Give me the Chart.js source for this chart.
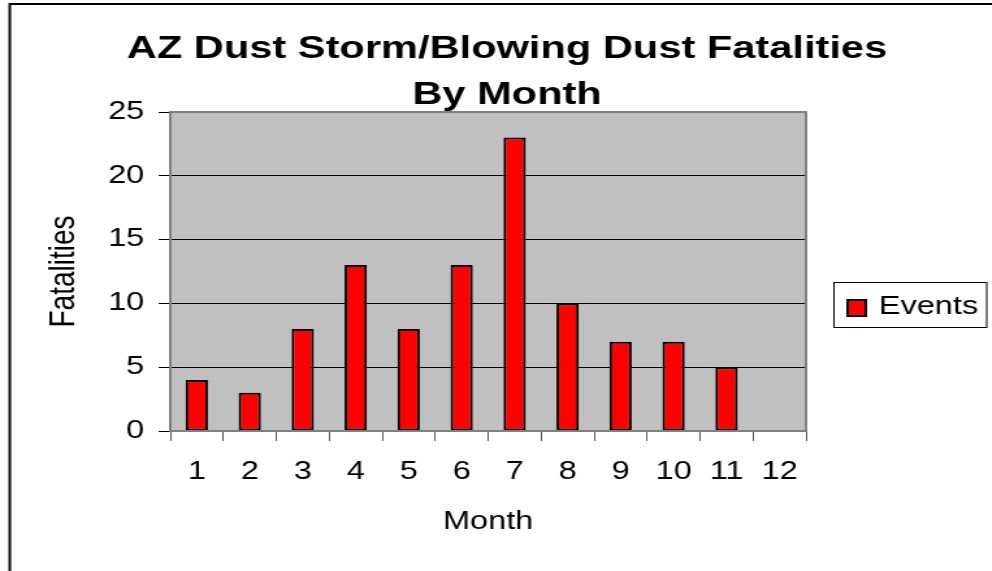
<!DOCTYPE html>
<html>
<head>
<meta charset="utf-8">
<title>AZ Dust Storm Fatalities</title>
<script src="https://cdn.jsdelivr.net/npm/chart.js@4/dist/chart.umd.min.js"></script>
<style>
    body { margin: 0; background: #fff; overflow: hidden; }
    /* the original picture is stretched sideways, so the canvas is too */
    .wrap { width: 763px; height: 571px; transform: scaleX(1.3); transform-origin: 0 0; }
</style>
</head>
<body>
<div class="wrap"><canvas id="dust_chart" width="763" height="571"></canvas></div>
<script>
const titleLines = ['AZ Dust Storm/Blowing Dust Fatalities', 'By Month'];
const months = ['1', '2', '3', '4', '5', '6', '7', '8', '9', '10', '11', '12'];
const fatalities = [4, 3, 8, 13, 8, 13, 23, 10, 7, 7, 5, null];
const seriesName = 'Events';
const yTicks = [0, 5, 10, 15, 20, 25];

const fontName = 'Arial, "Liberation Sans", sans-serif';

// grey plot box, outer frame, title and legend
const decorPlugin = {
    id: 'decor',
    beforeDraw: (chart) => {
        const ctx = chart.ctx;
        const a = chart.chartArea;
        ctx.save();
        ctx.fillStyle = '#C0C0C0';
        ctx.fillRect(a.left, a.top, a.right - a.left, a.bottom - a.top);
        ctx.restore();
    },
    afterDatasetsDraw: (chart) => {
        const ctx = chart.ctx;
        const a = chart.chartArea;
        ctx.save();
        ctx.strokeStyle = '#808080';
        ctx.lineWidth = 2;
        ctx.strokeRect(a.left, a.top, a.right - a.left, a.bottom - a.top);
        ctx.restore();
    },
    afterDraw: (chart) => {
        const ctx = chart.ctx;
        ctx.save();

        // outer frame, right and bottom sides are off the picture
        ctx.strokeStyle = '#000';
        ctx.lineWidth = 2;
        ctx.strokeRect(7.5, 4, 800, 620);

        // title
        ctx.fillStyle = '#000';
        ctx.textAlign = 'center';
        ctx.textBaseline = 'alphabetic';
        ctx.font = 'bold 32px ' + fontName;
        ctx.fillText(titleLines[0], 390, 58);
        ctx.fillText(titleLines[1], 390, 104);

        // legend
        const ds = chart.data.datasets[0];
        ctx.lineWidth = 1;
        ctx.strokeRect(641.5, 282.5, 117.5, 45);
        ctx.fillStyle = ds.backgroundColor;
        ctx.fillRect(652, 300, 14, 16);
        ctx.lineWidth = 2;
        ctx.strokeStyle = ds.borderColor;
        ctx.strokeRect(652, 300, 14, 16);
        ctx.fillStyle = '#000';
        ctx.textAlign = 'left';
        ctx.textBaseline = 'middle';
        ctx.font = '25px ' + fontName;
        ctx.fillText(ds.label, 676, 307);

        ctx.restore();
    }
};

const ctx = document.getElementById('dust_chart');

new Chart(ctx, {
    type: 'bar',
    data: {
        labels: months,
        datasets: [
            {
                label: seriesName,
                data: fatalities,
                backgroundColor: '#FF0000',
                borderColor: '#000000',
                borderWidth: 2,
                borderSkipped: false,
                categoryPercentage: 1,
                barPercentage: 0.42
            }
        ]
    },
    options: {
        responsive: false,
        animation: false,
        events: [],
        layout: {
            padding: { left: 8, right: 143, top: 112, bottom: 0 }
        },
        plugins: {
            legend: { display: false },
            title: { display: false },
            tooltip: { enabled: false }
        },
        scales: {
            x: {
                afterFit: (scale) => { scale.height = 140; },
                border: { display: false },
                grid: {
                    offset: true,
                    drawOnChartArea: false,
                    tickLength: 10,
                    color: '#555555'
                },
                ticks: {
                    padding: 16,
                    color: '#000',
                    font: { family: fontName, size: 25 }
                },
                title: {
                    display: true,
                    text: 'Month',
                    color: '#000',
                    padding: { top: 0, bottom: 34 },
                    font: { family: fontName, size: 25 }
                }
            },
            y: {
                min: 0,
                max: 25,
                afterFit: (scale) => { scale.width = 123; },
                afterBuildTicks: (scale) => {
                    scale.ticks = yTicks.map(v => ({ value: v }));
                },
                border: { display: false },
                grid: {
                    color: '#000000',
                    lineWidth: 1,
                    tickLength: 9
                },
                ticks: {
                    padding: 11,
                    color: '#000',
                    font: { family: fontName, size: 25 }
                },
                title: {
                    display: true,
                    text: 'Fatalities',
                    color: '#000',
                    padding: { top: 24, bottom: 0 },
                    font: { family: fontName, size: 28 }
                }
            }
        }
    },
    plugins: [decorPlugin]
});
</script>
</body>
</html>
